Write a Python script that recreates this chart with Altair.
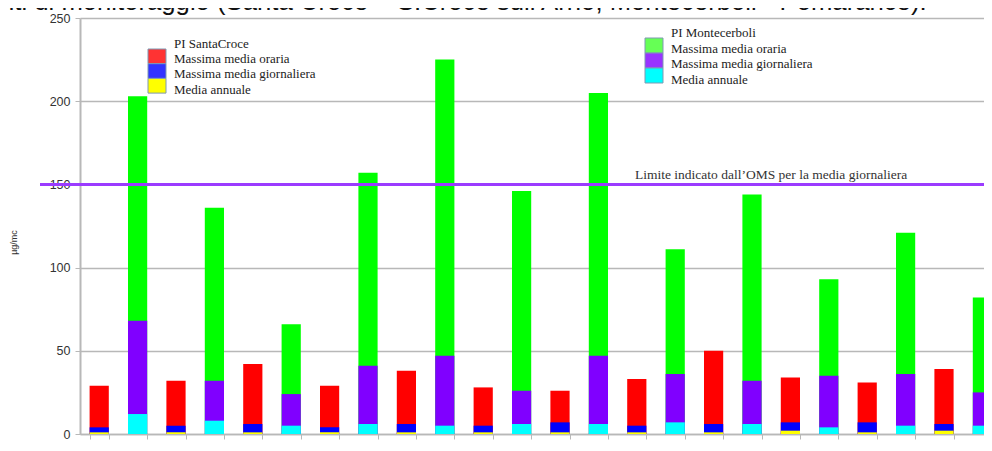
import altair as alt
import pandas as pd

years = ["2007", "2008", "2009", "2010", "2011", "2012",
         "2013", "2014", "2015", "2016", "2017", "2018"]

# PI SantaCroce
sc_hourly = [29, 32, 42, 29, 38, 28, 26, 33, 50, 34, 31, 39]
sc_daily = [4, 5, 6, 4, 6, 5, 7, 5, 6, 7, 7, 6]
sc_annual = [1, 1, 1, 1, 1, 1, 1, 1, 1, 2, 1, 2]

# PI Montecerboli
mc_hourly = [203, 136, 66, 157, 225, 146, 205, 111, 144, 93, 121, 82]
mc_daily = [68, 32, 24, 41, 47, 26, 47, 36, 32, 35, 36, 25]
mc_annual = [12, 8, 5, 6, 5, 6, 6, 7, 6, 4, 5, 5]

series_names = ["SC oraria", "SC giornaliera", "SC annuale",
                "MC oraria", "MC giornaliera", "MC annuale"]
bar_colors = ["#ff0000", "#0000ff", "#ffff00", "#00ff00", "#8000ff", "#00ffff"]

legend_labels = ["Massima media oraria", "Massima media giornaliera", "Media annuale"]
sc_legend_colors = ["#ff3333", "#3333ff", "#ffff00"]
mc_legend_colors = ["#66ff55", "#9933ff", "#00ffff"]

oms_limit = 150
oms_text = "Limite indicato dall\u2019OMS per la media giornaliera"
top_text = "nti di monitoraggio (Santa Croce \u2013 S.Croce sull\u2019Arno, Montecerboli - Pomarance)."

slot_order = [f"{y} {s}" for y in years for s in ["SC", "MC"]]

rows = []
metrics = [("oraria", sc_hourly, mc_hourly),
           ("giornaliera", sc_daily, mc_daily),
           ("annuale", sc_annual, mc_annual)]
for name, sc_vals, mc_vals in metrics:
    for i, y in enumerate(years):
        rows.append({"slot": f"{y} SC", "series": f"SC {name}", "value": sc_vals[i]})
        rows.append({"slot": f"{y} MC", "series": f"MC {name}", "value": mc_vals[i]})
df = pd.DataFrame(rows)

one = pd.DataFrame({"k": [0]})

axis_gray = "#b8b8b8"
y_scale = alt.Scale(domain=[0, 250], nice=False)

bars = alt.Chart(df).mark_bar().encode(
    x=alt.X("slot:N", sort=slot_order,
            scale=alt.Scale(range=[0, 921.6], paddingInner=0.5, paddingOuter=0.25),
            axis=alt.Axis(title=None, labelExpr="substring(datum.label, 0, 4)",
                          tickBand="extent", labelAngle=0, grid=False,
                          labelFontSize=12, labelColor="#333", labelFont="Liberation Sans",
                          tickSize=5, labelPadding=3, domainColor=axis_gray,
                          tickColor=axis_gray, domainWidth=1.5)),
    y=alt.Y("value:Q", stack=None, scale=y_scale,
            axis=alt.Axis(values=[0, 50, 100, 150, 200, 250], title="\u00b5g/mc",
                          titleFontSize=9, titleFont="Liberation Sans",
                          titleFontWeight="normal", titleColor="#333",
                          titleX=-62, titleY=224,
                          labelFontSize=12.5, labelColor="#333", labelFont="Liberation Sans",
                          tickSize=5, labelPadding=5,
                          gridColor=axis_gray, gridWidth=1.5,
                          domainColor=axis_gray, domainWidth=2, tickColor=axis_gray)),
    color=alt.Color("series:N", scale=alt.Scale(domain=series_names, range=bar_colors),
                    legend=None),
)

oms_rule = alt.Chart(one).mark_rule(color="#9b3bff", strokeWidth=3).encode(
    y=alt.YDatum(oms_limit, scale=y_scale), x=alt.value(-40), x2=alt.value(925)
)
oms_label = alt.Chart(one).mark_text(
    font="Liberation Serif", fontSize=13.5, align="left", baseline="middle",
    color="#333", dy=-9
).encode(y=alt.YDatum(oms_limit, scale=y_scale), x=alt.value(555), text=alt.value(oms_text))

top_label = alt.Chart(one).mark_text(
    font="Liberation Sans", fontSize=25.7, align="left", baseline="alphabetic", color="#111"
).encode(x=alt.value(-80), y=alt.value(-8), text=alt.value(top_text))

layers = [bars, oms_rule, oms_label, top_label]


def make_legend(title, colors, box_x0, box_x1, box_y0, box_h, text_x, text_ys):
    out = []
    for i, c in enumerate(colors):
        out.append(alt.Chart(one).mark_rect(color=c, stroke="#7f99b3", strokeWidth=1).encode(
            x=alt.value(box_x0), x2=alt.value(box_x1),
            y=alt.value(box_y0 + i * box_h), y2=alt.value(box_y0 + (i + 1) * box_h)))
    texts = [title] + legend_labels
    for t, ty in zip(texts, text_ys):
        out.append(alt.Chart(one).mark_text(
            font="Liberation Serif", fontSize=13, align="left", baseline="middle", color="#222"
        ).encode(x=alt.value(text_x), y=alt.value(ty), text=alt.value(t)))
    return out


layers += make_legend("PI SantaCroce", sc_legend_colors, 68, 86, 31, 14.7, 94, [26, 41, 56, 72])
layers += make_legend("PI Montecerboli", mc_legend_colors, 565, 583, 20, 15, 591, [15, 30.5, 46, 61.5])

chart = alt.layer(*layers).properties(
    width=904, height=416,
    autosize=alt.AutoSizeParams(type="none"),
    padding={"left": 72, "top": 10, "right": 0, "bottom": 9},
).configure_view(stroke=None)

chart.save("out.html", embed_options={"renderer": "svg", "actions": False})
